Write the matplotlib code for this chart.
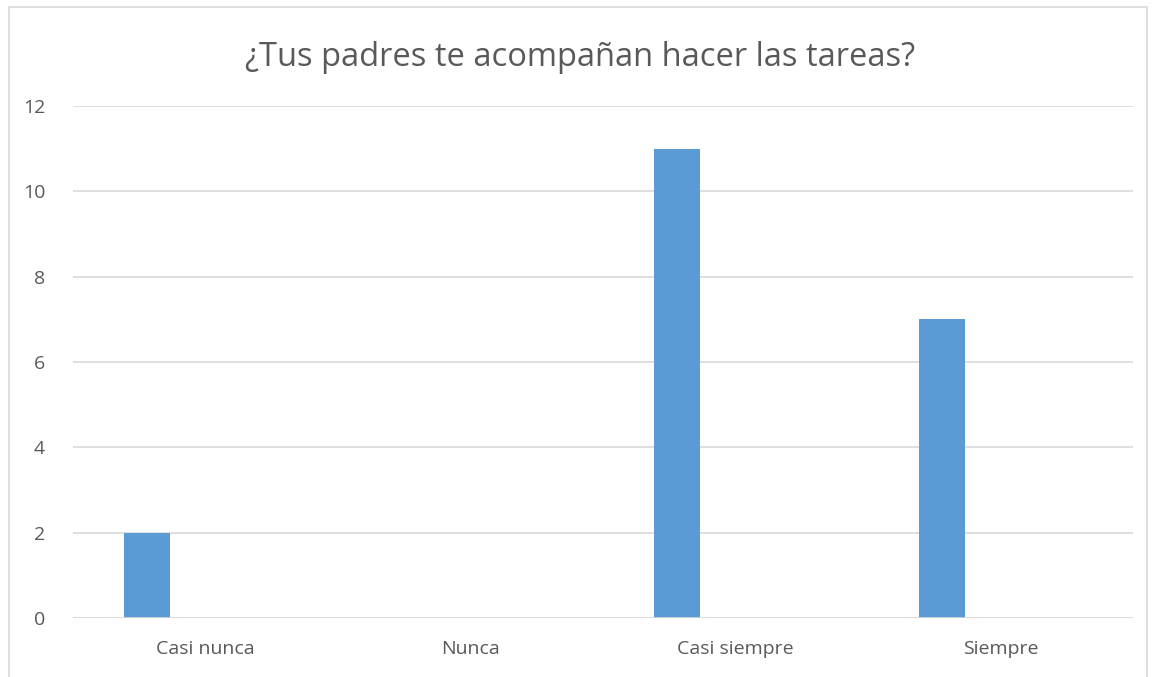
import matplotlib
matplotlib.use('Agg')
import matplotlib.pyplot as plt
import numpy as np
from matplotlib.patches import Rectangle

# data
categories = ['Casi nunca', 'Nunca', 'Casi siempre', 'Siempre']
values = [2, 0, 11, 7]
title = '¿Tus padres te acompañan hacer las tareas?'

plt.rcParams['font.family'] = ['Open Sans', 'DejaVu Sans']
text_col = '#595959'
grid_col = '#D9D9D9'

fig = plt.figure(figsize=(11.61, 6.77), dpi=100)
ax = fig.add_axes([73/1161, 1 - 618/677, (1133 - 73)/1161, (618 - 106)/677])

x = np.arange(len(categories))
ax.bar(x - 0.22, values, width=0.174, color='#5B9BD5', zorder=3)

ax.set_xlim(-0.5, len(categories) - 0.5)
ax.set_ylim(0, 12)
ax.set_yticks(range(0, 13, 2))
ax.set_xticks(x)
ax.set_xticklabels(categories)
ax.tick_params(axis='both', length=0, labelsize=14, colors=text_col)
ax.tick_params(axis='x', pad=16)
ax.tick_params(axis='y', pad=20)
ax.grid(axis='y', color=grid_col, linewidth=1.2, zorder=0)
for s in ax.spines.values():
    s.set_visible(False)
ax.axhline(0, color=grid_col, linewidth=1.2, zorder=4)

fig.text(0.5, 1 - 57/677, title, ha='center', va='center', fontsize=23.5, color=text_col)

# chart frame
fig.patches.append(Rectangle((9/1161, -0.05), (1147 - 9)/1161, 1 - 7/677 + 0.05,
                             transform=fig.transFigure, fill=False,
                             edgecolor=grid_col, linewidth=1.2))

fig.savefig('out.png', dpi=100)
